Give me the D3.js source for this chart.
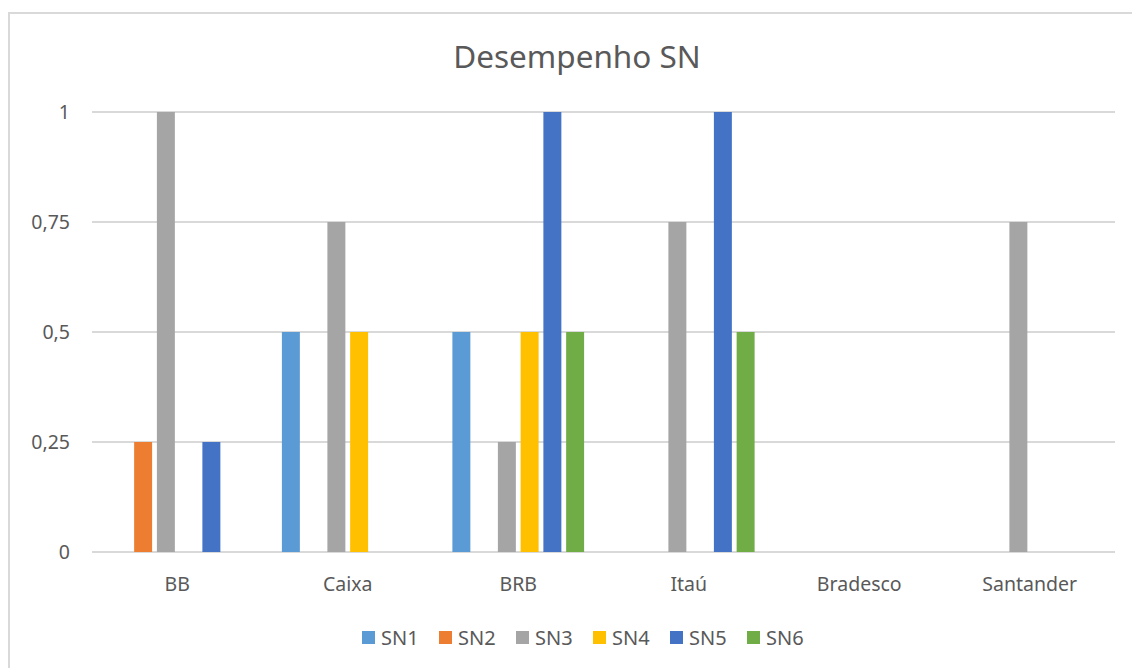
<!DOCTYPE html>
<html>
<head>
<meta charset="utf-8">
<script src="https://cdn.jsdelivr.net/npm/d3@7"></script>
<style>
  body { margin: 0; background: #fff; }
  svg text { font-family: "Noto Sans", "Open Sans", sans-serif; fill: #595959; }
</style>
</head>
<body>
<div class="chart"></div>
<script>
const categories = ["BB", "Caixa", "BRB", "Itaú", "Bradesco", "Santander"];
const seriesNames = ["SN1", "SN2", "SN3", "SN4", "SN5", "SN6"];
const sn1 = [0, 0.5, 0.5, 0, 0, 0];
const sn2 = [0.25, 0, 0, 0, 0, 0];
const sn3 = [1, 0.75, 0.25, 0.75, 0, 0.75];
const sn4 = [0, 0.5, 0.5, 0, 0, 0];
const sn5 = [0.25, 0, 1, 1, 0, 0];
const sn6 = [0, 0, 0.5, 0.5, 0, 0];
const yTicks = [0, 0.25, 0.5, 0.75, 1];
const colors = ["#5B9BD5", "#ED7D31", "#A5A5A5", "#FFC000", "#4472C4", "#70AD47"];

const seriesValues = [sn1, sn2, sn3, sn4, sn5, sn6];
const data = categories.map((c, i) => ({
  category: c,
  values: seriesNames.map((s, j) => ({ series: s, value: seriesValues[j][i] }))
}));

const width = 1132, height = 668;
const plot = { left: 92, right: 1115, top: 112, bottom: 552 };

const svg = d3.select('.chart').append('svg')
  .attr('width', width)
  .attr('height', height);

// chart border (runs off the right and bottom of the picture)
svg.append('rect')
  .attr('x', 9).attr('y', 13)
  .attr('width', 1140).attr('height', 670)
  .attr('fill', 'none')
  .attr('stroke', '#d9d9d9')
  .attr('stroke-width', 2);

const x0 = d3.scaleBand()
  .domain(categories)
  .range([plot.left, plot.right]);

const x1 = d3.scaleBand()
  .domain(seriesNames)
  .range([17, x0.bandwidth() - 17])
  .paddingInner(0.21)
  .paddingOuter(0.105);

const yScale = d3.scaleLinear()
  .domain([0, 1])
  .range([plot.bottom, plot.top]);

const colorScale = d3.scaleOrdinal(seriesNames, colors);
const fmt = d => String(d).replace('.', ',');

// gridlines
svg.append('g')
  .selectAll('line')
  .data(yTicks)
  .enter()
  .append('line')
  .attr('x1', plot.left)
  .attr('x2', plot.right)
  .attr('y1', d => yScale(d))
  .attr('y2', d => yScale(d))
  .attr('stroke', '#d9d9d9')
  .attr('stroke-width', 2);

// y axis labels
const yAxis = d3.axisLeft(yScale)
  .tickValues(yTicks)
  .tickFormat(fmt)
  .tickSize(0)
  .tickPadding(0);

svg.append('g')
  .attr('class', 'axis y-axis')
  .attr('transform', 'translate(70,0)')
  .call(yAxis)
  .call(g => g.select('.domain').remove())
  .call(g => g.selectAll('text')
    .attr('font-size', 19.5)
    .attr('fill', '#595959')
    .style('font-family', '"Noto Sans", sans-serif'));

// x axis labels
const xAxis = d3.axisBottom(x0).tickSize(0).tickPadding(0);
svg.append('g')
  .attr('class', 'axis x-axis')
  .attr('transform', `translate(0, ${plot.bottom + 25})`)
  .call(xAxis)
  .call(g => g.select('.domain').remove())
  .call(g => g.selectAll('text')
    .attr('font-size', 19.5)
    .attr('fill', '#595959')
    .style('font-family', '"Noto Sans", sans-serif'));

// bars
const groups = svg.selectAll('.cat')
  .data(data)
  .enter()
  .append('g')
  .attr('class', 'cat')
  .attr('transform', d => `translate(${x0(d.category)},0)`);

groups.selectAll('rect')
  .data(d => d.values)
  .enter()
  .append('rect')
  .attr('x', d => x1(d.series))
  .attr('width', x1.bandwidth())
  .attr('y', d => yScale(d.value))
  .attr('height', d => yScale(0) - yScale(d.value))
  .attr('fill', d => colorScale(d.series));

// title
svg.append('text')
  .attr('x', 577)
  .attr('y', 68)
  .attr('text-anchor', 'middle')
  .attr('font-size', 31.5)
  .text('Desempenho SN');

// legend
const legendStep = 77;
const legend = svg.selectAll('.legend')
  .data(seriesNames)
  .enter()
  .append('g')
  .attr('class', 'legend')
  .attr('transform', (d, i) => `translate(${362 + i * legendStep}, 631)`);

legend.append('rect')
  .attr('width', 13)
  .attr('height', 13)
  .attr('fill', d => colorScale(d));

legend.append('text')
  .attr('x', 19)
  .attr('y', 13.5)
  .attr('font-size', 20)
  .text(d => d);
</script>
</body>
</html>
